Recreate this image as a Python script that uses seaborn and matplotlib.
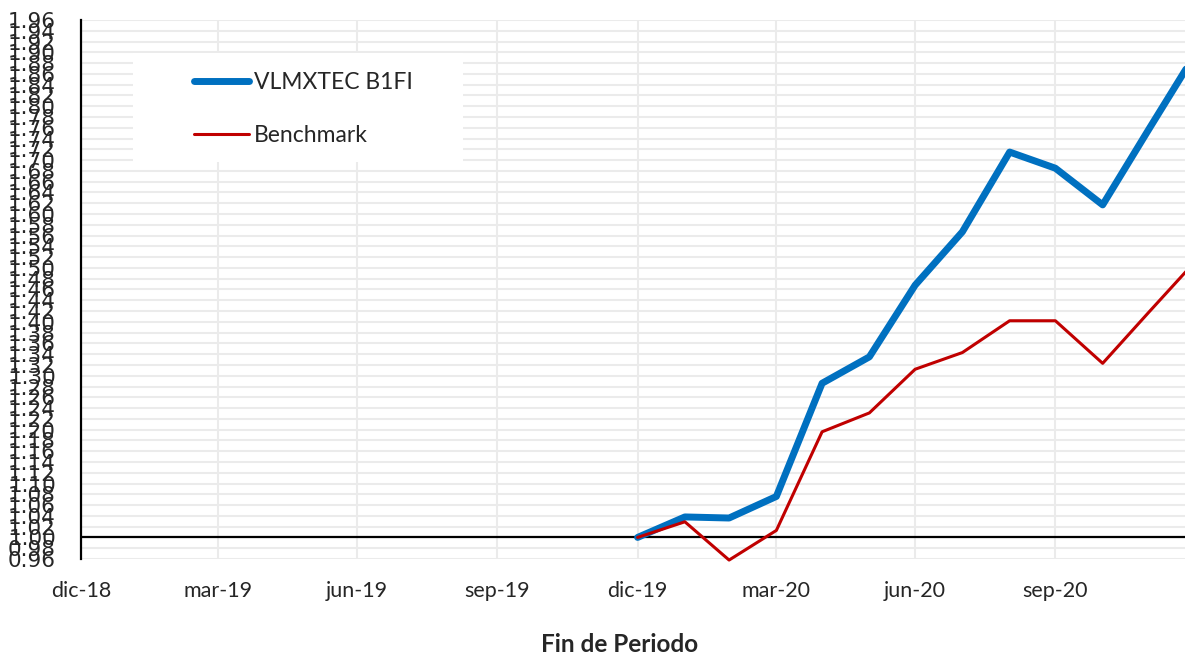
import numpy as np
import pandas as pd
import seaborn as sns
import matplotlib
matplotlib.use('Agg')
import matplotlib.pyplot as plt
from matplotlib.patches import Rectangle

# Valores al cierre de cada mes (base 1.00 en dic-19)
dates = ['2019-12-31', '2020-01-31', '2020-02-29', '2020-03-31', '2020-04-30',
         '2020-05-31', '2020-06-30', '2020-07-31', '2020-08-31', '2020-09-30',
         '2020-10-31', '2020-11-30', '2020-12-31']
fund = [1.000, 1.038, 1.036, 1.076, 1.286, 1.335, 1.468, 1.567, 1.715, 1.685,
        1.617, 1.756, 1.898]
bench = [1.000, 1.029, 0.958, 1.013, 1.196, 1.231, 1.312, 1.343, 1.402, 1.402,
         1.323, 1.417, 1.513]

tick_dates = ['2018-12-31', '2019-03-31', '2019-06-30', '2019-09-30',
              '2019-12-31', '2020-03-31', '2020-06-30', '2020-09-30']
tick_labels = ['dic-18', 'mar-19', 'jun-19', 'sep-19', 'dic-19', 'mar-20', 'jun-20', 'sep-20']
y_ticks = np.round(np.arange(0.96, 1.9601, 0.02), 2)

df = pd.DataFrame({'fecha': pd.to_datetime(dates),
                   'VLMXTEC B1FI': fund,
                   'Benchmark': bench})

sns.set_theme(style='white')
plt.rcParams['font.family'] = ['DejaVu Sans']

fig, ax = plt.subplots(figsize=(11.85, 6.56), dpi=100)
fig.subplots_adjust(left=0.0684, right=1.0, bottom=0.1479, top=0.9695)

sns.lineplot(data=df, x='fecha', y='VLMXTEC B1FI', ax=ax, color='#0070C0', lw=5,
             label='VLMXTEC B1FI', clip_on=False, zorder=4)
sns.lineplot(data=df, x='fecha', y='Benchmark', ax=ax, color='#C00000', lw=2.2,
             label='Benchmark', clip_on=False, zorder=4)

ax.axhline(1.0, color='black', lw=1.6, zorder=3)

ax.set_xlim(pd.Timestamp('2018-12-31'), pd.Timestamp('2020-12-24'))
ax.set_ylim(0.96, 1.96)
ax.set_xticks(pd.to_datetime(tick_dates))
ax.set_xticklabels(tick_labels, fontfamily='Lato', fontsize=15.5)
ax.set_yticks(y_ticks)
ax.set_yticklabels([f'{v:.2f}' for v in y_ticks], fontsize=15.5)
ax.tick_params(axis='both', length=0)
ax.tick_params(axis='x', pad=16)
ax.tick_params(axis='y', pad=18)
ax.set_xlabel('')
ax.set_ylabel('')

ax.grid(True, color='#ebebeb', lw=1.5)
ax.set_axisbelow(True)
for side in ['top', 'right', 'bottom']:
    ax.spines[side].set_visible(False)
ax.spines['left'].set_color('black')
ax.spines['left'].set_linewidth(1.6)

# caja blanca de la leyenda
ax.add_patch(Rectangle((0.0471, 0.7365), 0.299, 0.2022, transform=ax.transAxes,
                       facecolor='white', edgecolor='none', zorder=2))
leg = ax.legend(loc='upper left', bbox_to_anchor=(0.1024, 0.904), frameon=False,
                borderpad=0, borderaxespad=0, handlelength=2.4, handletextpad=0.2,
                labelspacing=1.41, prop={'family': 'Lato', 'size': 16.5})
for line in leg.get_lines():
    line.set_solid_capstyle('round')

fig.text(620 / 1185, 1 - 645 / 656, 'Fin de Periodo', ha='center', va='center',
         fontfamily='Lato', fontweight='bold', fontsize=17.5)

fig.savefig('out.png', dpi=100)
